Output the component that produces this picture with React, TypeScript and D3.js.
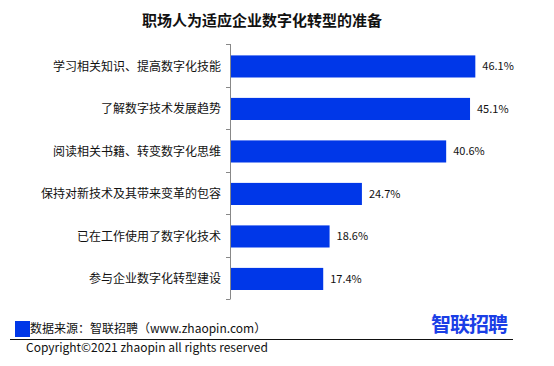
import React from "react";
import * as d3 from "d3";

const title = "职场人为适应企业数字化转型的准备";
const categories = [
  "学习相关知识、提高数字化技能",
  "了解数字技术发展趋势",
  "阅读相关书籍、转变数字化思维",
  "保持对新技术及其带来变革的包容",
  "已在工作使用了数字化技术",
  "参与企业数字化转型建设",
];
const values = [46.1, 45.1, 40.6, 24.7, 18.6, 17.4];
const sourceText = "数据来源：智联招聘（www.zhaopin.com）";
const copyrightText = "Copyright©2021 zhaopin all rights reserved";
const logoText = "智联招聘";

const W = 554;
const H = 366;
const BLUE = "#0037E8";
const FONT = "'Noto Sans CJK SC', 'Noto Sans', sans-serif";

export default function App() {
  const axisX = 230.5;
  const y = d3
    .scaleBand<string>()
    .domain(categories)
    .range([44, 299])
    .paddingInner(0.48)
    .paddingOuter(0.24);
  const x = d3.scaleLinear().domain([0, 50]).range([231, 231 + 265]);
  const boundaries = d3.range(categories.length + 1).map((i) => 44 + i * y.step());

  return (
    <svg
      width={W}
      height={H}
      style={{ position: "absolute", left: 0, top: 0, background: "#fff" }}
      fontFamily={FONT}
    >
      <rect x={0} y={0} width={W} height={H} fill="#fff" />
      <text x={262} y={26} textAnchor="middle" fontSize={15} fontWeight="bold" fill="#111">
        {title}
      </text>

      {categories.map((c, i) => (
        <g key={c}>
          <rect
            x={x(0)}
            y={(y(c) as number) + 1.2}
            width={x(values[i]) - x(0)}
            height={y.bandwidth()}
            fill={BLUE}
          />
          <text
            x={x(values[i]) + 7}
            y={(y(c) as number) + 1.2 + y.bandwidth() / 2}
            dy="0.35em"
            fontSize={11}
            fill="#111"
          >
            {values[i].toFixed(1)}%
          </text>
          <text
            x={221}
            y={(y(c) as number) + 1.2 + y.bandwidth() / 2}
            dy="0.35em"
            textAnchor="end"
            fontSize={12}
            fill="#111"
          >
            {c}
          </text>
        </g>
      ))}

      <line x1={axisX} x2={axisX} y1={44} y2={299} stroke="#888" strokeWidth={1} />
      {boundaries.map((b, i) => (
        <line key={i} x1={226} x2={axisX} y1={Math.round(b) + 0.5} y2={Math.round(b) + 0.5} stroke="#888" strokeWidth={1} />
      ))}

      <rect x={15} y={321} width={15} height={16} fill={BLUE} />
      <text x={30} y={333} fontSize={12} fill="#111">
        {sourceText}
      </text>
      <text x={431} y={332} fontSize={20} fontWeight="bold" fill="#1a3ee6" letterSpacing={-1}>
        {logoText}
      </text>
      <line x1={10} x2={513} y1={339.5} y2={339.5} stroke="#111" strokeWidth={1} />
      <text x={26} y={352} fontSize={12} fill="#111">
        {copyrightText}
      </text>
    </svg>
  );
}
